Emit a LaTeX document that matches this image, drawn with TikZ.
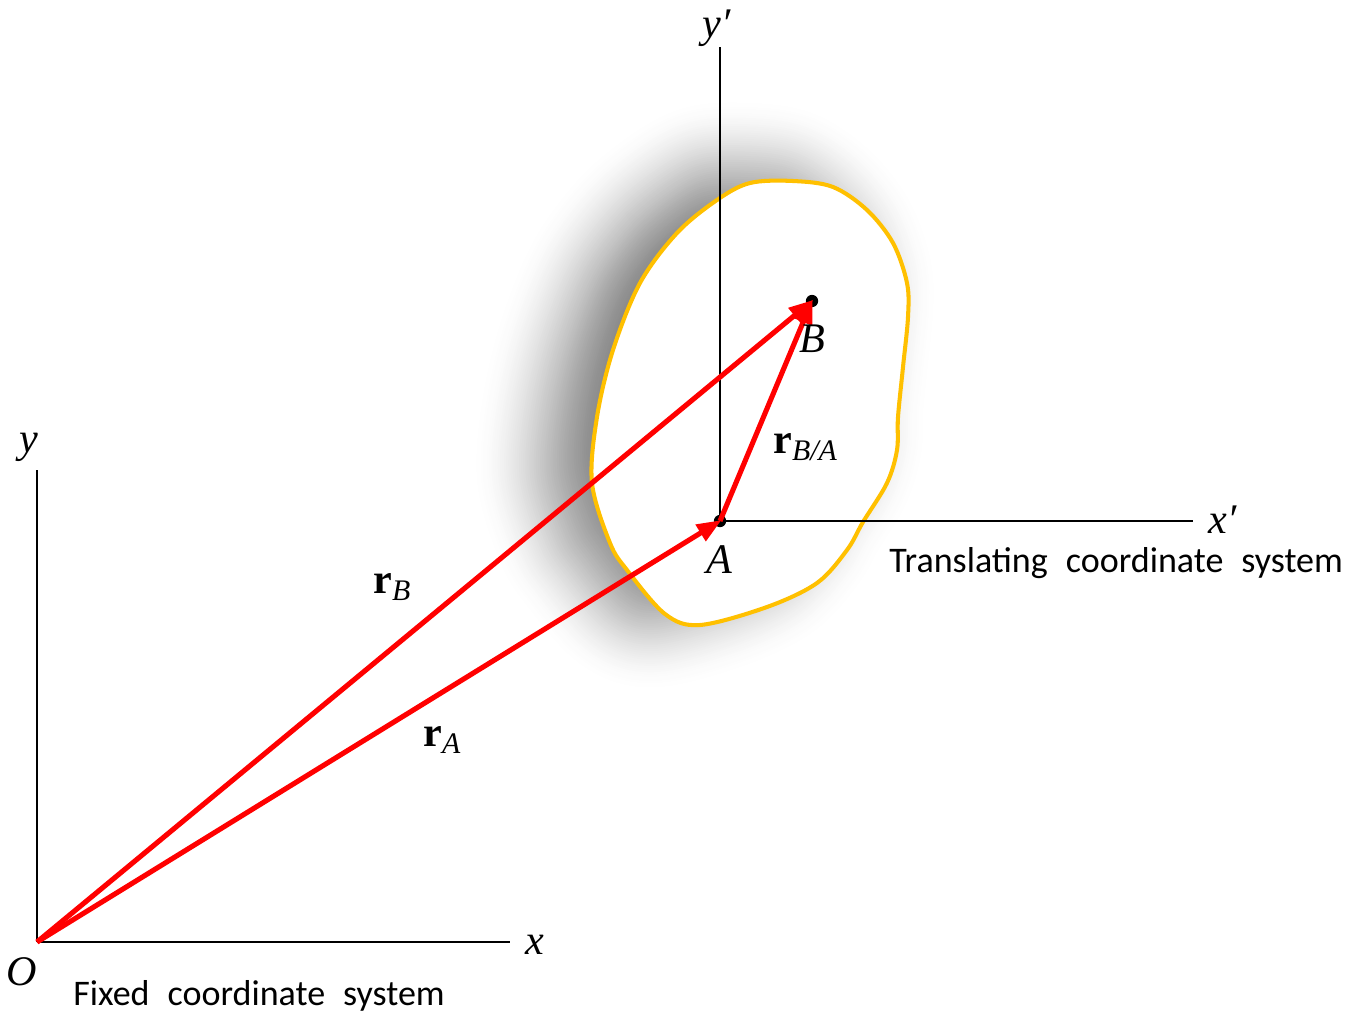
\documentclass[tikz,border=0pt]{standalone}
\usepackage{fontspec}
\setmainfont{Liberation Serif}
\newfontfamily\calfont{Carlito}
\usetikzlibrary{arrows.meta}
\definecolor{vecred}{HTML}{FF0000}
\definecolor{blobgold}{HTML}{FFC000}
\tikzset{
  axisline/.style={line width=1.1pt, black},
  vecarrow/.style={line width=2.9pt, vecred, -{Triangle[length=14pt,width=10.5pt]}, shorten >=-1pt},
  mathlbl/.style={inner sep=0pt, font=\fontsize{24}{28}\selectfont\itshape},
  veclbl/.style={inner sep=0pt, font=\fontsize{24}{28}\selectfont},
  textlbl/.style={inner sep=0pt, font=\calfont\fontsize{20.5}{24}\selectfont},
  ptdot/.style={circle, fill=black, inner sep=0pt, minimum size=7pt},
}
\newcommand{\blobpath}{plot[smooth cycle, tension=0.55] coordinates {
 (750,183) (793,181) (833,187) (867,210) (893,243) (907,283) (908,317) (903,367)
 (898,417) (897,450) (887,483) (863,522) (847,550) (817,583) (767,607) (700,625)
 (665,614) (627,570) (610,543) (592,483) (597,417) (613,350) (640,283) (677,233) (717,200)}}
\newcommand{\vsub}[1]{\raisebox{-4pt}{\fontsize{17}{20}\selectfont\itshape #1}}
\begin{document}
\begin{tikzpicture}[x=0.02cm, y=-0.02cm]
\useasboundingbox (0,0) rectangle (1350,1014);
% soft shadow (opaque grey ramps on white)
\begin{scope}[shift={(-45,-8)}]
  \foreach \k in {36,...,1} {
    \pgfmathsetmacro\h{76*\k/36}
    \pgfmathsetmacro\t{(\h+76)/152}
    \pgfmathsetmacro\v{max(0,50*(1-(3*\t*\t-2*\t*\t*\t)))}
    \draw[line width=\h*0.04cm, color=black!\v, line join=round] \blobpath;
  }
  \foreach \k in {0,...,36} {
    \pgfmathsetmacro\d{76*\k/36}
    \pgfmathsetmacro\t{(76-\d)/152}
    \pgfmathsetmacro\v{max(0,50*(1-(3*\t*\t-2*\t*\t*\t)))}
    \pgfmathsetmacro\xs{1-2*\d/318}
    \pgfmathsetmacro\ys{1-2*\d/444}
    \begin{scope}[shift={(750,404)}, xscale=\xs, yscale=\ys, shift={(-750,-404)}]
      \fill[color=black!\v] \blobpath;
    \end{scope}
  }
\end{scope}
% body
\draw[line width=2.3pt, blobgold, fill=white] \blobpath;
% coordinates
\coordinate (O) at (37,942);
\coordinate (xend) at (510,942);
\coordinate (yend) at (37,470);
\node[ptdot] (A) at (720,521) {};
\node[ptdot] (B) at (812,301) {};
\coordinate (xpend) at (1193,521);
\coordinate (ypend) at (720,47);
% axes
\draw[axisline] (O) -- (xend);
\draw[axisline] (O) -- (yend);
\draw[line width=1pt] (A.center) -- (xpend);
\draw[line width=1pt] (A.center) -- (ypend);
% vectors
\draw[vecarrow] (O) -- (A.center);
\draw[vecarrow] (O) -- (B.center);
\draw[vecarrow] (A.center) -- (B.center);
% labels
\node[mathlbl, anchor=base] (ly) at (29,452) {y};
\node[mathlbl, anchor=base west] (lx) at (525,954) {x};
\node[mathlbl, anchor=base] (lO) at (22,985) {O};
\node[mathlbl, anchor=base] (lA) at (719,573) {A};
\node[mathlbl, anchor=base] (lB) at (812,352) {B};
\node[mathlbl, anchor=base west] (lxp) at (1208,533) {x′};
\node[mathlbl, anchor=base west] (lyp) at (702,37) {y′};
\node[veclbl, anchor=base west] (lrB) at (373,593) {\textbf{r}\vsub{B}};
\node[veclbl, anchor=base west] (lrA) at (423,746) {\textbf{r}\vsub{A}};
\node[veclbl, anchor=base west] (lrBA) at (773,453) {\textbf{r}\vsub{B/A}};
\node[textlbl, anchor=base west] (fixed) at (73,1005) {Fixed\hspace{0.5em}coordinate\hspace{0.5em}system};
\node[textlbl, anchor=base west] (trans) at (889,572) {Translating\hspace{0.5em}coordinate\hspace{0.5em}system};
\end{tikzpicture}
\end{document}
